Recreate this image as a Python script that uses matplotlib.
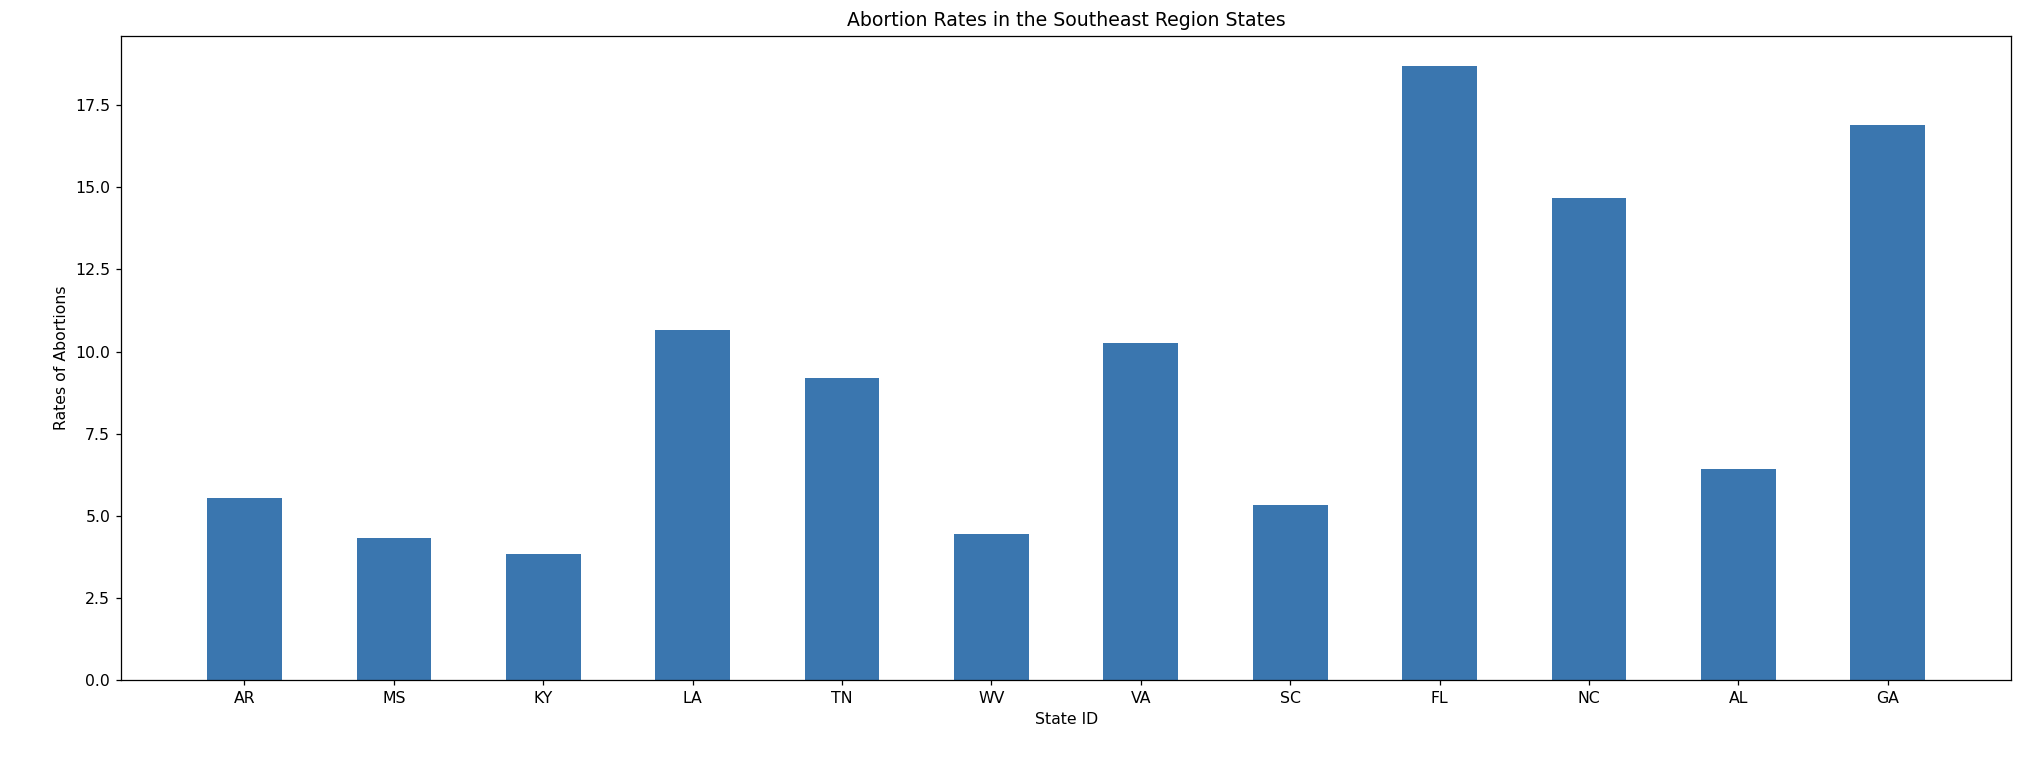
import numpy as np
import matplotlib
matplotlib.use("Agg")
import matplotlib.pyplot as plt

# данные
states = ["AR", "MS", "KY", "LA", "TN", "WV", "VA", "SC", "FL", "NC", "AL", "GA"]
rates = [5.53, 4.33, 3.83, 10.65, 9.20, 4.45, 10.25, 5.33, 18.68, 14.66, 6.43, 16.91]

fig, ax = plt.subplots(figsize=(18, 770 / 113), dpi=113)
fig.subplots_adjust(left=0.0596, right=0.9887, bottom=0.1169, top=0.9536)

x = np.arange(len(states))
ax.bar(x, rates, width=0.5, color="#3a76af")
ax.set_xticks(x)
ax.set_xticklabels(states)
ax.set_title("Abortion Rates in the Southeast Region States")
ax.set_xlabel("State ID")
ax.set_ylabel("Rates of Abortions")

fig.savefig("out.png", dpi=113)
